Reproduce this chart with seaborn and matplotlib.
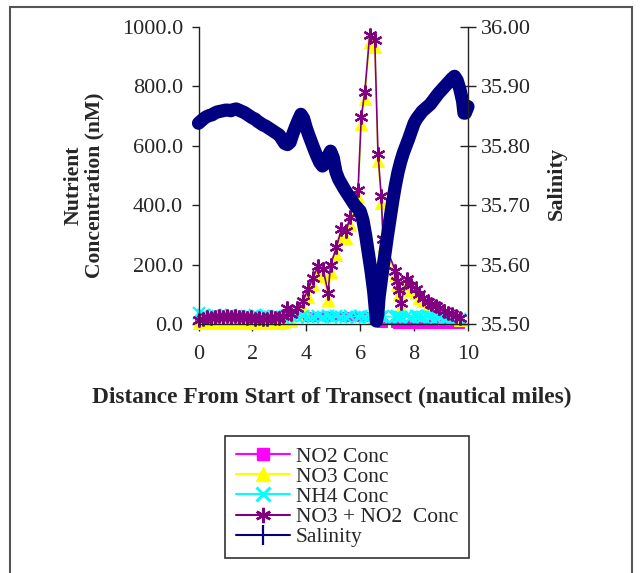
import matplotlib
matplotlib.use("Agg")
import matplotlib.pyplot as plt
import seaborn as sns
from matplotlib.lines import Line2D
from matplotlib.patches import Rectangle
from matplotlib.ticker import FormatStrFormatter, MultipleLocator

# Nutrient samples along the transect (nautical miles)
dist_nut = [0.0, 0.15, 0.3, 0.45, 0.6, 0.75, 0.9, 1.05, 1.2, 1.35, 1.5, 1.65, 1.8, 1.95,
            2.1, 2.25, 2.4, 2.55, 2.7, 2.85, 3.0, 3.15, 3.27, 3.45, 3.64, 3.88, 4.07, 4.25,
            4.44, 4.62, 4.81, 4.9, 5.12, 5.3, 5.49, 5.61, 5.92, 6.04, 6.17, 6.35, 6.54, 6.66,
            6.78, 6.85, 7.3, 7.35, 7.45, 7.5, 7.75, 7.9, 8.08, 8.2, 8.33, 8.5, 8.64, 8.8,
            8.94, 9.1, 9.25, 9.4, 9.56, 9.7]
no3_no2 = [12, 18, 22, 20, 25, 28, 25, 28, 24, 26, 22, 25, 20, 22,
           18, 20, 16, 18, 22, 20, 21, 28, 55, 33, 55, 78, 117, 156,
           196, 185, 106, 200, 258, 320, 314, 359, 452, 697, 781, 973, 956, 573,
           432, 285, 180, 145, 115, 72, 150, 130, 117, 100, 89, 75, 67, 60,
           55, 45, 38, 32, 27, 20]
no3 = [2, 4, 3, 5, 2, 4, 3, 5, 2, 4, 3, 2, 4, 3,
       2, 4, 3, 2, 5, 4, 5, 8, 30, 10, 30, 55, 92, 130,
       172, 160, 82, 175, 232, 295, 290, 335, 428, 675, 758, 948, 932, 550,
       408, 262, 165, 130, 100, 58, 136, 116, 104, 88, 78, 64, 57, 50,
       46, 36, 30, 25, 20, 14]
no2 = [2, 1, 3, 2, 1, 2, 3, 2, 1, 2, 3, 2, 1, 2,
       3, 2, 1, 2, 3, 2, 4, 10, 22, 24, 25, 24, 26, 25,
       27, 26, 25, 26, 27, 26, 25, 26, 27, 25, 26, 25, 24, 8,
       5, 3, 2, 1, 0, 1, 0, 1, 0, 1, 0, 1, 0, 1,
       0, 1, 0, 1, 0, 1]
nh4 = [38, 30, 28, 25, 30, 22, 28, 26, 30, 24, 27, 22, 28, 25,
       30, 23, 26, 28, 24, 27, 25, 22, 28, 26, 24, 27, 22, 25,
       28, 24, 26, 23, 27, 25, 22, 26, 24, 28, 25, 23, 20, 26,
       24, 28, 22, 27, 25, 23, 28, 24, 26, 22, 25, 27, 23, 20,
       22, 18, 20, 17, 19, 16]

# Salinity along the transect
dist_sal = [0.0, 0.1, 0.2, 0.3, 0.4, 0.5, 0.6, 0.7, 0.8, 0.9, 1.0, 1.1, 1.2, 1.3, 1.4,
            1.5, 1.6, 1.7, 1.8, 1.9, 2.0, 2.1, 2.2, 2.3, 2.4, 2.5, 2.6, 2.7, 2.8, 2.9,
            3.0, 3.1, 3.2, 3.3, 3.4, 3.5, 3.6, 3.7, 3.8, 3.9, 4.0, 4.1, 4.2, 4.3, 4.4,
            4.5, 4.6, 4.7, 4.8, 4.9, 5.0, 5.1, 5.2, 5.3, 5.4, 5.5, 5.6, 5.7, 5.8, 5.9,
            6.0, 6.1, 6.2, 6.3, 6.4, 6.5, 6.55, 6.6, 6.65, 6.7, 6.8, 6.9, 7.0, 7.1, 7.2,
            7.3, 7.4, 7.5, 7.6, 7.7, 7.8, 7.9, 8.0, 8.1, 8.2, 8.3, 8.4, 8.5, 8.6, 8.7,
            8.8, 8.9, 9.0, 9.1, 9.2, 9.3, 9.4, 9.5, 9.6, 9.7, 9.8, 9.85, 9.9, 10.0]
salinity = [35.838, 35.842, 35.846, 35.849, 35.851, 35.852, 35.855, 35.857, 35.858, 35.859,
            35.860, 35.860, 35.859, 35.861, 35.862, 35.860, 35.858, 35.856, 35.853, 35.850,
            35.847, 35.845, 35.841, 35.838, 35.835, 35.833, 35.830, 35.827, 35.824, 35.821,
            35.818, 35.811, 35.804, 35.802, 35.806, 35.820, 35.832, 35.843, 35.853, 35.846,
            35.830, 35.817, 35.805, 35.793, 35.782, 35.772, 35.766, 35.770, 35.782, 35.791,
            35.780, 35.756, 35.744, 35.736, 35.728, 35.721, 35.714, 35.707, 35.700, 35.695,
            35.690, 35.675, 35.650, 35.620, 35.590, 35.555, 35.530, 35.505, 35.515, 35.545,
            35.580, 35.612, 35.645, 35.675, 35.705, 35.732, 35.755, 35.773, 35.788, 35.800,
            35.812, 35.825, 35.838, 35.846, 35.852, 35.858, 35.862, 35.866, 35.870, 35.876,
            35.882, 35.888, 35.893, 35.898, 35.903, 35.908, 35.913, 35.917, 35.910, 35.895,
            35.875, 35.855, 35.855, 35.866]

sns.set_theme(style="white")
plt.rcParams["font.family"] = ["Liberation Serif", "DejaVu Serif"]

W, H = 642, 573
fig = plt.figure(figsize=(W / 100, H / 100), dpi=100)
ax = fig.add_axes([198.5 / W, 1 - 324 / H, (468 - 198.5) / W, (324 - 27) / H])
ax2 = ax.twinx()

asterisk = (6, 2, 0)

sns.lineplot(x=dist_nut, y=no2, ax=ax, color="#FF00FF", marker="s", markersize=6,
             mec="#FF00FF", linewidth=1, sort=False, estimator=None, clip_on=False)
sns.lineplot(x=dist_nut, y=no3, ax=ax, color="#FFFF00", marker="^", markersize=8,
             mec="#FFFF00", linewidth=1, sort=False, estimator=None, clip_on=False)
sns.lineplot(x=dist_nut, y=nh4, ax=ax, color="#00FFFF", marker="x", markersize=8,
             mec="#00FFFF", mew=1.6, linewidth=1, sort=False, estimator=None, clip_on=False)
sns.lineplot(x=dist_nut, y=no3_no2, ax=ax, color="#800080", marker=asterisk, markersize=10,
             mec="#800080", mew=1.6, linewidth=1.2, sort=False, estimator=None, clip_on=False)
sns.lineplot(x=dist_sal, y=salinity, ax=ax2, color="#000080", linewidth=9.5,
             sort=False, estimator=None, clip_on=False,
             solid_capstyle="round", solid_joinstyle="round")

ax.set_xlim(0, 10)
ax.set_ylim(0, 1000)
ax2.set_ylim(35.5, 36.0)
ax.xaxis.set_major_locator(MultipleLocator(2))
ax.yaxis.set_major_locator(MultipleLocator(200))
ax2.yaxis.set_major_locator(MultipleLocator(0.1))
ax.yaxis.set_major_formatter(FormatStrFormatter("%.1f"))
ax2.yaxis.set_major_formatter(FormatStrFormatter("%.2f"))

for a in (ax, ax2):
    a.set_facecolor("none")
    a.spines["top"].set_visible(False)
    for s in ("left", "right", "bottom"):
        a.spines[s].set_color("#222222")
        a.spines[s].set_linewidth(1)
ax2.spines["left"].set_visible(False)
ax2.spines["bottom"].set_visible(False)
ax.spines["right"].set_visible(False)

ax.tick_params(axis="y", direction="out", length=5, width=1, color="#222222",
               labelsize=16, pad=6, left=True)
ax.tick_params(axis="x", direction="out", length=5, width=1, color="#222222",
               labelsize=16, pad=10, bottom=True)
ax2.tick_params(axis="y", direction="inout", length=11, width=1, color="#222222",
                labelsize=16, pad=4, right=True)
ax.set_xlabel("")
ax.set_ylabel("")
ax2.set_ylabel("")

fig.text(332 / W, 1 - 397 / H, "Distance From Start of Transect (nautical miles)",
         ha="center", va="center", fontsize=16.8, fontweight="bold")
fig.text(84 / W, 1 - 185 / H, "Nutrient\nConcentration (nM)", ha="center", va="center",
         rotation=90, fontsize=15.6, fontweight="bold", linespacing=1.0)
fig.text(557 / W, 1 - 183 / H, "Salinity", ha="center", va="center",
         rotation=90, fontsize=16, fontweight="bold")

handles = [
    Line2D([], [], color="#FF00FF", marker="s", markersize=9, mec="#FF00FF"),
    Line2D([], [], color="#FFFF00", marker="^", markersize=10, mec="#FFFF00"),
    Line2D([], [], color="#00FFFF", marker="x", markersize=10, mew=2.2),
    Line2D([], [], color="#800080", marker=asterisk, markersize=11, mew=1.8),
    Line2D([], [], color="#000080", marker="|", markersize=14, mew=1.6),
]
labels = ["NO2 Conc", "NO3 Conc", "NH4 Conc", "NO3 + NO2  Conc", "Salinity"]
leg = fig.legend(handles, labels, loc="upper left",
                 bbox_to_anchor=(225 / W, 1 - 436 / H), fontsize=15.5,
                 frameon=True, fancybox=False, edgecolor="#333333", framealpha=1,
                 handlelength=2.5, handletextpad=0.28, labelspacing=0.0,
                 borderpad=0.5, borderaxespad=0)
leg.get_frame().set_linewidth(1.2)

fig.add_artist(Rectangle((10 / W, -0.02), (632 - 10) / W, 1 - 7 / H + 0.02,
                         transform=fig.transFigure, fill=False,
                         edgecolor="#555555", linewidth=1.5))

fig.savefig("out.png", dpi=100)
